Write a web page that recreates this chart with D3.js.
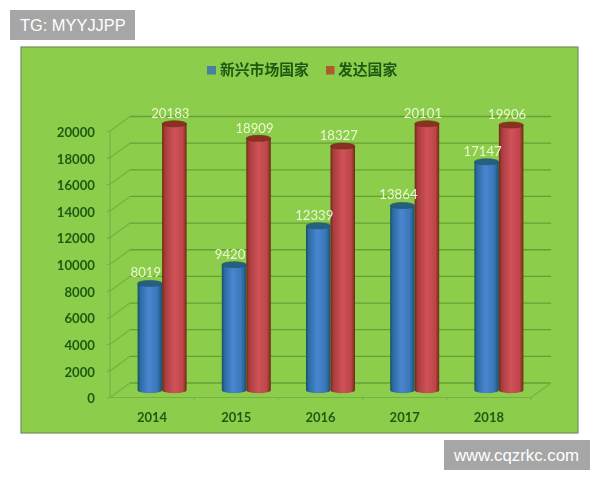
<!DOCTYPE html>
<html><head><meta charset="utf-8">
<script src="https://cdn.jsdelivr.net/npm/d3@7"></script>
<style>html,body{margin:0;padding:0;background:#fff}svg{display:block}</style>
</head><body>
<svg id="c" width="600" height="480"></svg>
<script>
const years = ["2014","2015","2016","2017","2018"];
const emerging = [8019,9420,12339,13864,17147];
const developed = [20183,18909,18327,20101,19906];
const yTicks = [0,2000,4000,6000,8000,10000,12000,14000,16000,18000,20000];
const seriesNames = ["新兴市场国家","发达国家"];

const svg = d3.select("#c");
const defs = svg.append("defs");
const soft = defs.append("filter").attr("id","soft").attr("x","-5%").attr("y","-5%").attr("width","110%").attr("height","110%");
soft.append("feGaussianBlur").attr("stdDeviation",0.6);

function grad(id, stops){
  const g = defs.append("linearGradient").attr("id",id).attr("x1","0").attr("x2","1").attr("y1","0").attr("y2","0");
  stops.forEach(s=>g.append("stop").attr("offset",s[0]).attr("stop-color",s[1]));
}
grad("blueG",[[0,"#164f5e"],[0.1,"#2b6aa0"],[0.45,"#4a86cf"],[0.8,"#3a76b8"],[1,"#1a5470"]]);
grad("redG",[[0,"#6e2a14"],[0.12,"#a93c3e"],[0.5,"#d0525a"],[0.85,"#bd4548"],[1,"#6c2c12"]]);

const panel = {x:21,y:47,w:557,h:386};
const front = {left:110,right:531,bottom:397.5,top:131};
const depth = {dx:20,dy:-14.5};

const root = svg.append("g").attr("filter","url(#soft)");
root.append("rect").attr("x",panel.x).attr("y",panel.y).attr("width",panel.w).attr("height",panel.h)
  .attr("fill","#8ccd4b").attr("stroke","#71905f").attr("stroke-width",1.2);

const y = d3.scaleLinear().domain([0,20000]).range([front.bottom,front.top]).clamp(true);
const x = d3.scaleBand().domain(years).range([front.left,front.right]);

// walls and grid
const grid = root.append("g").attr("fill","none");
yTicks.forEach(t=>{
  grid.append("path")
    .attr("d",`M${front.left-3},${y(t)+0.5}L${front.left},${y(t)}L${front.left+depth.dx},${y(t)+depth.dy}`)
    .attr("stroke","#74b047").attr("stroke-width",1.2);
  grid.append("path")
    .attr("d",`M${front.left+depth.dx},${y(t)+depth.dy}H${front.right+depth.dx}`)
    .attr("stroke","#64a034").attr("stroke-width",1.3);
});
grid.append("path").attr("d",`M${front.left},${y(20000)}V${y(0)}H${front.right}L${front.right+depth.dx},${y(0)+depth.dy}`)
  .attr("stroke","#76b04a").attr("stroke-width",1.2);
years.forEach((d,i)=>{
  const px = x(d)+x.bandwidth();
  grid.append("path").attr("d",`M${px},${y(0)}v3`).attr("stroke","#76b04a");
});

// y axis labels
root.append("g").selectAll("text").data(yTicks).join("text")
  .attr("x",95).attr("y",d=>y(d)+2.5).attr("text-anchor","end").attr("dominant-baseline","middle")
  .attr("font-family","Lato").attr("font-size",13.2).attr("font-weight",700).attr("fill","#1d5a12").text(d=>d);
// x axis labels
root.append("g").selectAll("text").data(years).join("text")
  .attr("x",d=>x(d)+x.bandwidth()/2).attr("y",419).attr("text-anchor","middle").attr("dominant-baseline","middle")
  .attr("font-family","Lato").attr("font-size",13).attr("font-weight",700).attr("fill","#1d5a12").text(d=>d);

// cylinders
const barW = 24.5, rY = 3, midDx = depth.dx/2, midDy = depth.dy/2;
function cyl(g, cx, v, fill, topFill, edge){
  const yt = y(v)+midDy, yb = y(0)+midDy;
  g.append("path").attr("d",`M${cx-barW/2},${yt}V${yb}A${barW/2},${rY} 0 0 0 ${cx+barW/2},${yb}V${yt}Z`)
    .attr("fill",fill);
  g.append("ellipse").attr("cx",cx).attr("cy",yt).attr("rx",barW/2).attr("ry",rY).attr("fill",topFill).attr("stroke",edge).attr("stroke-width",0.6);
}
const bars = root.append("g");
years.forEach((d,i)=>{
  const c = x(d)+x.bandwidth()/2+midDx;
  cyl(bars, c-barW/2, emerging[i], "url(#blueG)", "#27607e", "#1d5670");
  cyl(bars, c+barW/2, developed[i], "url(#redG)", "#8a3222", "#6e2a14");
});

// value labels
const labels = root.append("g").attr("font-family","Lato").attr("font-size",13.2).attr("fill","#eaf8d2").attr("text-anchor","middle").attr("dominant-baseline","middle");
years.forEach((d,i)=>{
  const c = x(d)+x.bandwidth()/2+midDx;
  labels.append("text").attr("x",c-barW/2-4).attr("y",y(emerging[i])+midDy-9.5).text(emerging[i]);
  labels.append("text").attr("x",c+barW/2-4).attr("y",y(developed[i])+midDy-9).text(developed[i]);
});

// legend
const lg = root.append("g").attr("font-family","Noto Sans CJK SC").attr("font-size",14.8).attr("fill","#1d5a12").attr("font-weight",700);
lg.append("rect").attr("x",207).attr("y",66).attr("width",9).attr("height",8.5).attr("fill","#4a7fa0");
lg.append("text").attr("x",220).attr("y",71).attr("dominant-baseline","middle").text(seriesNames[0]);
lg.append("rect").attr("x",326).attr("y",66).attr("width",8.5).attr("height",8.5).attr("fill","#b0592e");
lg.append("text").attr("x",338).attr("y",71).attr("dominant-baseline","middle").text(seriesNames[1]);

// watermarks
function stamp(bx,by,w,h,t,tx,fs){
  svg.append("rect").attr("x",bx).attr("y",by).attr("width",w).attr("height",h).attr("fill","#a6a6a6");
  svg.append("text").attr("x",tx).attr("y",by+h/2+1.5).attr("dominant-baseline","middle")
    .attr("font-family","Liberation Sans").attr("font-size",fs).attr("fill","#fff").text(t);
}
stamp(10,10,125,30,"TG: MYYJJPP",20,16.4);
stamp(444,440,146,30,"www.cqzrkc.com",454,16.8);
</script>
</body></html>
